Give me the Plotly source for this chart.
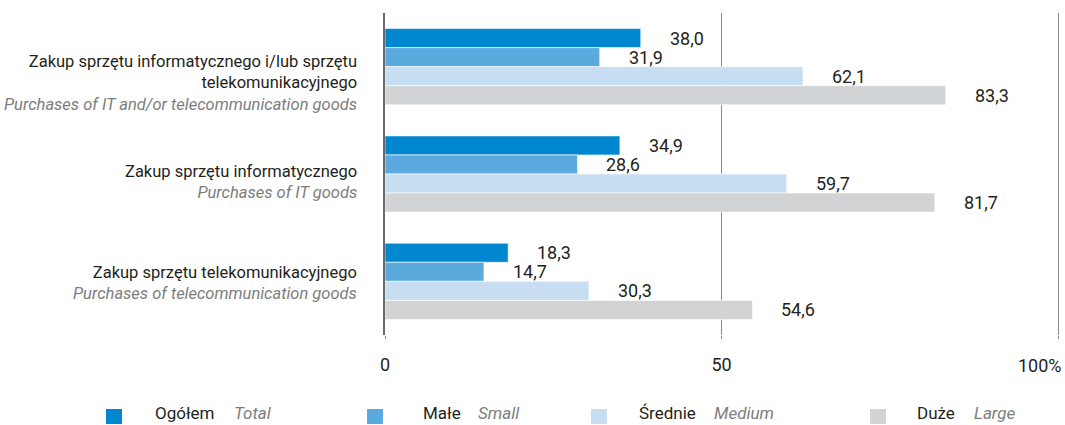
import plotly.graph_objects as go

# --- data -------------------------------------------------------------
categories_pl = [
    "Zakup sprzętu informatycznego i/lub sprzętu<br>telekomunikacyjnego",
    "Zakup sprzętu informatycznego",
    "Zakup sprzętu telekomunikacyjnego",
]
categories_en = [
    "Purchases of IT and/or telecommunication goods",
    "Purchases of IT goods",
    "Purchases of telecommunication goods",
]
series_pl = ["Ogółem", "Małe", "Średnie", "Duże"]
series_en = ["Total", "Small", "Medium", "Large"]
values = {
    "Ogółem": [38.0, 34.9, 18.3],
    "Małe": [31.9, 28.6, 14.7],
    "Średnie": [62.1, 59.7, 30.3],
    "Duże": [83.3, 81.7, 54.6],
}
tick_vals = [0, 50, 100]
tick_text = ["0", "50", "100%"]

# --- styling ----------------------------------------------------------
FONT = "Roboto, Liberation Sans, sans-serif"
TEXT = "#231f20"
GREY_TEXT = "#7d7d7d"
colors = ["#0087cf", "#5aaade", "#c6ddf2", "#d1d3d5"]
SIZE_CAT, SIZE_VAL, SIZE_LEG = 16.5, 18, 17

W, H = 1065, 425
ML, MR, MT, MB = 385, 4, 13, 90
PW, PH = W - ML - MR, H - MT - MB
SPAN_100 = 673          # pixel length of 0..100 on the value axis
X_MAX = 100 * PW / SPAN_100   # small overhang so the 100 gridline stays visible
BARGAP = 0.29
n_series = len(series_pl)
bar_w = (1 - BARGAP) / n_series


def px_x(px):
    return (px - ML) / PW


def px_y(py):
    return (H - MB - py) / PH


y_pos = list(range(len(categories_pl)))

fig = go.Figure()
for i, name in enumerate(series_pl):
    fig.add_trace(go.Bar(
        x=values[name], y=y_pos, orientation="h", name=name,
        marker=dict(color=colors[i], line=dict(color="white", width=0.6)),
        showlegend=False, hoverinfo="x+name",
    ))

annotations = []

# value labels to the right of each bar
for i, name in enumerate(series_pl):
    offset = -(1 - BARGAP) / 2 + bar_w * (i + 0.5)
    for c, v in enumerate(values[name]):
        annotations.append(dict(
            x=v, y=c + offset, xref="x", yref="y",
            text=f"{v:.1f}".replace(".", ","), showarrow=False,
            xanchor="left", yanchor="middle", xshift=27,
            font=dict(family=FONT, size=SIZE_VAL, color=TEXT),
        ))

# category labels (Polish + English in italics)
label_shift = [-16, -8, -2]
for c in y_pos:
    annotations.append(dict(
        x=0, y=c, xref="paper", yref="y", xshift=-26, yshift=label_shift[c],
        text=(f"{categories_pl[c]}<br><i><span style='color:{GREY_TEXT}'>"
              f"{categories_en[c]}</span></i>"),
        showarrow=False, xanchor="right", yanchor="middle", align="right",
        font=dict(family=FONT, size=SIZE_CAT, color=TEXT),
    ))

# right-most tick label kept inside the canvas
annotations.append(dict(
    x=100, y=px_y(365), xref="x", yref="paper", text=tick_text[-1],
    showarrow=False, xanchor="right", yanchor="middle", xshift=6,
    font=dict(family=FONT, size=SIZE_VAL, color=TEXT),
))

# legend drawn by hand
sq_x = [106, 367, 591, 870]
main_x = [153, 421, 637, 915]
sub_x = [232, 476, 712, 972]
shapes = []
for i in range(n_series):
    shapes.append(dict(
        type="rect", xref="paper", yref="paper",
        x0=px_x(sq_x[i]), x1=px_x(sq_x[i] + 16),
        y0=px_y(424), y1=px_y(409),
        fillcolor=colors[i], line=dict(width=0),
    ))
    annotations.append(dict(
        x=px_x(main_x[i]), y=px_y(413), xref="paper", yref="paper",
        text=series_pl[i], showarrow=False, xanchor="left", yanchor="middle",
        font=dict(family=FONT, size=SIZE_LEG, color=TEXT),
    ))
    annotations.append(dict(
        x=px_x(sub_x[i]), y=px_y(413), xref="paper", yref="paper",
        text=f"<i>{series_en[i]}</i>", showarrow=False,
        xanchor="left", yanchor="middle",
        font=dict(family=FONT, size=SIZE_LEG, color=GREY_TEXT),
    ))

fig.update_layout(
    width=W, height=H,
    margin=dict(l=ML, r=MR, t=MT, b=MB, autoexpand=False),
    barmode="group", bargap=BARGAP, bargroupgap=0,
    plot_bgcolor="white", paper_bgcolor="white",
    font=dict(family=FONT, size=SIZE_VAL, color=TEXT),
    annotations=annotations, shapes=shapes,
    showlegend=False,
)
fig.update_xaxes(
    range=[0, X_MAX], tickvals=tick_vals, ticktext=tick_text[:-1] + [""],
    showgrid=True, gridcolor="#8a8a8a", gridwidth=1,
    zeroline=False, showline=False,
    ticks="outside", ticklen=3, tickcolor="#8a8a8a",
    ticklabelstandoff=10,
    tickfont=dict(family=FONT, size=SIZE_VAL, color=TEXT),
)
fig.update_yaxes(
    range=[len(y_pos) - 0.5, -0.5], showticklabels=False,
    showgrid=False, zeroline=False,
    showline=True, linecolor="#6a6a6a", linewidth=2,
)

fig.write_html("out.html")
